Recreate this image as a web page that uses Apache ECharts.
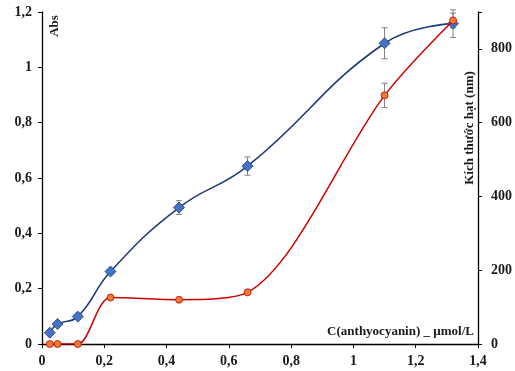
<!DOCTYPE html>
<html>
<head>
<meta charset="utf-8">
<script src="https://cdn.jsdelivr.net/npm/echarts@6/dist/echarts.min.js"></script>
<style>html,body{margin:0;padding:0;background:#fff}#c{width:515px;height:371px}</style>
</head>
<body>
<div id="c"></div>
<script>
var concentrations = [0.025, 0.05, 0.115, 0.22, 0.44, 0.66, 1.1, 1.32];
var absValues = [0.041, 0.072, 0.099, 0.262, 0.493, 0.643, 1.087, 1.158];
var absErrors = [0, 0, 0, 0, 0.025, 0.033, 0.056, 0.05];
var sizeValues = [0, 0, 0, 126, 120, 140, 674, 877];
var sizeErrors = [0, 0, 0, 0, 0, 0, 33, 20];
var xTicks = [0, 0.2, 0.4, 0.6, 0.8, 1, 1.2, 1.4];
var absTicks = [0, 0.2, 0.4, 0.6, 0.8, 1, 1.2];
var sizeTicks = [0, 200, 400, 600, 800];
var xTitle = 'C(anthyocyanin) _ µmol/L';
var absTitle = 'Abs';
var sizeTitle = 'Kích thước hạt (nm)';

var FONT = '"Liberation Serif", "Times New Roman", serif';
function comma(v){ return String(+v.toFixed(2)).replace('.', ','); }

function pairs(xs, ys){ return xs.map(function(x,i){ return [x, ys[i]]; }); }
function errData(xs, ys, es){
  var out = [];
  xs.forEach(function(x,i){ if (es[i] > 0) out.push([x, ys[i]-es[i], ys[i]+es[i]]); });
  return out;
}
function errRender(params, api){
  var x = api.value(0);
  var lo = api.coord([x, api.value(1)]);
  var hi = api.coord([x, api.value(2)]);
  var w = 3;
  var st = {stroke: '#808080', lineWidth: 1};
  return {type: 'group', children: [
    {type: 'line', shape: {x1: lo[0], y1: lo[1], x2: hi[0], y2: hi[1]}, style: st},
    {type: 'line', shape: {x1: lo[0]-w, y1: lo[1], x2: lo[0]+w, y2: lo[1]}, style: st},
    {type: 'line', shape: {x1: hi[0]-w, y1: hi[1], x2: hi[0]+w, y2: hi[1]}, style: st}
  ]};
}

var labelStyle = {fontFamily: FONT, fontWeight: 'bold', fontSize: 14, color: '#1a1a1a'};
var axisLineStyle = {show: true, lineStyle: {color: '#000', width: 1.3}};

var chart = echarts.init(document.getElementById('c'), null, {renderer: 'canvas'});
chart.setOption({
  animation: false,
  grid: {left: 42, right: 35, top: 12, bottom: 27, containLabel: false},
  xAxis: {
    type: 'value', min: xTicks[0], max: xTicks[xTicks.length-1], interval: 0.2,
    axisLine: Object.assign({onZero: false}, axisLineStyle),
    axisTick: {show: true, length: 4, lineStyle: {color: '#000'}},
    splitLine: {show: false},
    axisLabel: Object.assign({margin: 10, formatter: comma}, labelStyle)
  },
  yAxis: [{
    type: 'value', min: absTicks[0], max: absTicks[absTicks.length-1], interval: 0.2,
    axisLine: axisLineStyle,
    axisTick: {show: true, length: 4, lineStyle: {color: '#000'}},
    splitLine: {show: false},
    axisLabel: Object.assign({margin: 10, formatter: comma}, labelStyle)
  }, {
    type: 'value', position: 'right', min: 0, max: 900, interval: 200,
    axisLine: axisLineStyle,
    axisTick: {show: true, length: 4, lineStyle: {color: '#000'}},
    splitLine: {show: false},
    axisLabel: Object.assign({margin: 13, formatter: function(v){ return sizeTicks.indexOf(v) >= 0 ? String(v) : ''; }}, labelStyle)
  }],
  series: [{
    type: 'line', yAxisIndex: 0, data: pairs(concentrations, absValues),
    smooth: 0.45, symbol: 'diamond', symbolSize: 11,
    lineStyle: {color: '#1F3A7A', width: 1.6},
    itemStyle: {color: '#4472C4', borderColor: '#1F3A7A', borderWidth: 0.8},
    z: 3
  }, {
    type: 'line', yAxisIndex: 1, data: pairs(concentrations, sizeValues),
    smooth: 0.3, symbol: 'circle', symbolSize: 7,
    lineStyle: {color: '#CC0000', width: 1.5},
    itemStyle: {color: '#ED7D31', borderColor: '#C00000', borderWidth: 0.8},
    z: 4
  }, {
    type: 'custom', yAxisIndex: 0, data: errData(concentrations, absValues, absErrors),
    renderItem: errRender, z: 2
  }, {
    type: 'custom', yAxisIndex: 1, data: errData(concentrations, sizeValues, sizeErrors),
    renderItem: errRender, z: 2
  }],
  graphic: [{
    type: 'text', x: 55, y: 26, rotation: Math.PI/2,
    style: {text: absTitle, font: 'bold 13px ' + FONT, fill: '#1a1a1a', align: 'center', verticalAlign: 'middle'}
  }, {
    type: 'text', x: 470, y: 128, rotation: Math.PI/2,
    style: {text: sizeTitle, font: 'bold 13px ' + FONT, fill: '#1a1a1a', align: 'center', verticalAlign: 'middle'}
  }, {
    type: 'text', x: 474, y: 332,
    style: {text: xTitle, font: 'bold 13px ' + FONT, fill: '#1a1a1a', align: 'right', verticalAlign: 'middle'}
  }]
});
</script>
</body>
</html>
